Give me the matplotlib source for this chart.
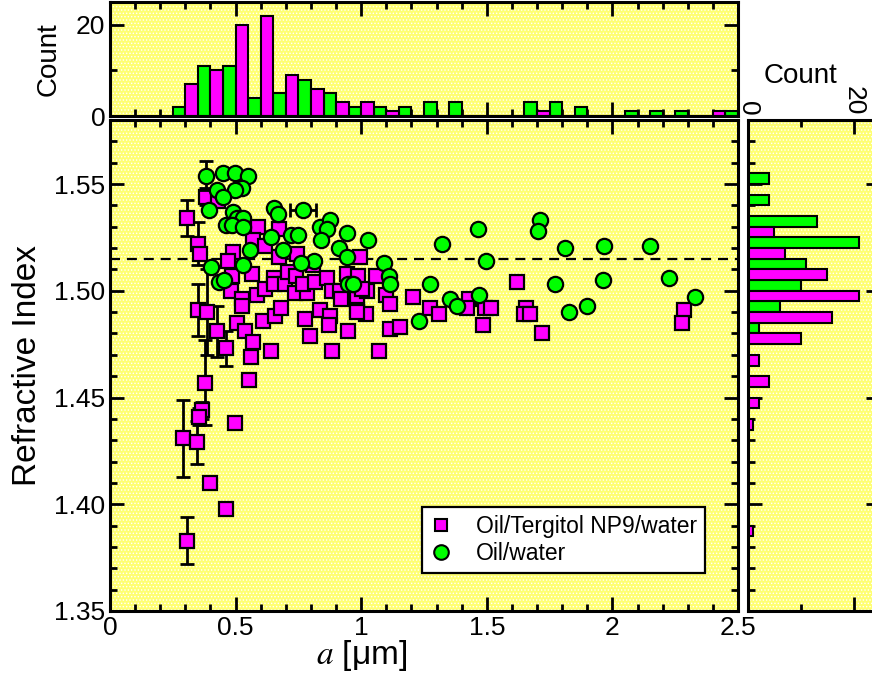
import matplotlib
matplotlib.use("Agg")
import matplotlib.pyplot as plt
from matplotlib.ticker import MultipleLocator, FormatStrFormatter, FuncFormatter, NullFormatter
from matplotlib.lines import Line2D
from matplotlib.patches import Rectangle
import numpy as np

plt.rcParams['font.family'] = ['Liberation Sans', 'DejaVu Sans']
plt.rcParams['mathtext.fontset'] = 'stix'
plt.rcParams['hatch.linewidth'] = 0.6

# ---- data ----
# Oil/Tergitol NP9/water (magenta squares)
m_x = [0.306, 0.382, 0.431, 0.352, 0.359, 0.591, 0.671, 0.571, 0.618, 0.489,
       0.471, 0.565, 0.485, 0.481, 0.525, 0.525, 0.584, 0.618, 0.651, 0.651,
       0.697, 0.710, 0.671, 0.744, 0.741, 0.737, 0.784, 0.770, 0.817, 0.810,
       0.863, 0.883, 0.916, 0.943, 0.989, 0.996, 0.983, 1.023, 1.060, 1.100,
       1.116, 1.206, 1.272, 0.352, 0.385, 0.425, 0.462, 0.505, 0.538, 0.571,
       0.561, 0.640, 0.611, 0.657, 0.681, 0.777, 0.797, 0.837, 0.876, 0.870,
       0.883, 0.949, 0.983, 1.019, 1.069, 1.113, 1.153, 0.378, 0.554, 0.365,
       0.356, 0.290, 0.345, 0.398, 0.498, 0.462, 0.308, 1.308, 1.431, 1.421,
       1.494, 1.518, 1.485, 1.620, 1.657, 1.647, 1.673, 1.720, 2.284, 2.278,
       0.919, 1.003, 0.985]
m_y = [1.534, 1.544, 1.542, 1.522, 1.517, 1.530, 1.529, 1.524, 1.521, 1.518,
       1.514, 1.508, 1.507, 1.500, 1.496, 1.493, 1.498, 1.501, 1.506, 1.503,
       1.503, 1.509, 1.516, 1.517, 1.507, 1.499, 1.499, 1.503, 1.504, 1.512,
       1.506, 1.500, 1.500, 1.508, 1.507, 1.516, 1.496, 1.500, 1.507, 1.498,
       1.494, 1.497, 1.492, 1.491, 1.490, 1.481, 1.473, 1.485, 1.481, 1.476,
       1.469, 1.472, 1.486, 1.488, 1.492, 1.487, 1.479, 1.491, 1.488, 1.484,
       1.472, 1.481, 1.491, 1.489, 1.472, 1.482, 1.483, 1.457, 1.458, 1.444,
       1.441, 1.431, 1.429, 1.410, 1.438, 1.398, 1.383, 1.489, 1.496, 1.492,
       1.492, 1.492, 1.484, 1.504, 1.492, 1.489, 1.489, 1.480, 1.491, 1.485,
       1.496, 1.501, 1.490]
m_err = [0.0085, 0.004, 0, 0.010, 0, 0, 0, 0, 0, 0,
         0, 0, 0, 0, 0, 0, 0, 0, 0, 0,
         0, 0, 0, 0, 0, 0, 0, 0, 0, 0,
         0, 0, 0, 0, 0, 0, 0, 0, 0, 0,
         0, 0, 0, 0.012, 0.020, 0.012, 0.008, 0, 0, 0,
         0, 0, 0, 0, 0, 0, 0, 0, 0, 0,
         0, 0, 0, 0, 0, 0, 0, 0.020, 0, 0.004,
         0.004, 0.018, 0.010, 0, 0, 0.002, 0.011, 0, 0, 0,
         0, 0, 0, 0, 0, 0, 0, 0, 0, 0,
         0, 0, 0]

# Oil/water (green circles)
g_x = [0.382, 0.451, 0.498, 0.549, 0.525, 0.425, 0.498, 0.449, 0.394, 0.491,
       0.505, 0.531, 0.462, 0.485, 0.529, 0.651, 0.668, 0.768, 0.640, 0.720,
       0.748, 0.837, 0.876, 0.863, 0.839, 0.943, 1.029, 0.558, 0.688, 0.910,
       0.943, 0.814, 0.761, 0.529, 0.402, 0.434, 0.454, 1.089, 1.112, 1.113,
       0.949, 0.969, 1.232, 1.275, 1.321, 1.465, 1.498, 1.713, 1.702, 1.810,
       1.965, 2.149, 2.227, 2.327, 1.352, 1.381, 1.470, 1.770, 1.829, 1.899,
       1.963]
g_y = [1.554, 1.555, 1.555, 1.554, 1.548, 1.547, 1.547, 1.544, 1.538, 1.537,
       1.534, 1.534, 1.531, 1.531, 1.530, 1.539, 1.536, 1.538, 1.525, 1.526,
       1.526, 1.530, 1.533, 1.529, 1.524, 1.527, 1.524, 1.519, 1.519, 1.520,
       1.516, 1.514, 1.513, 1.512, 1.511, 1.504, 1.505, 1.513, 1.507, 1.503,
       1.503, 1.503, 1.486, 1.503, 1.522, 1.529, 1.514, 1.533, 1.528, 1.520,
       1.521, 1.521, 1.506, 1.497, 1.496, 1.493, 1.498, 1.503, 1.490, 1.493,
       1.505]
g_yerr_idx, g_yerr = [0], [0.007]
g_xerr_idx, g_xerr = [17], [0.053]

REF_INDEX = 1.515

# size histogram (top): bins of 0.05, two series interleaved
g_size_edges = [0.25, 0.35, 0.45, 0.55, 0.65, 0.75, 0.85, 0.95, 1.05, 1.15, 1.25, 1.35,
                1.45, 1.55, 1.65, 1.75, 1.85, 1.95, 2.05, 2.15, 2.25, 2.35, 2.45]
g_size_counts = [2, 11, 11, 4, 5, 8, 5, 2, 2, 2, 3, 3, 0, 0, 3, 3, 2, 0, 1, 1, 1, 0, 1]
m_size_edges = [0.30, 0.40, 0.50, 0.60, 0.70, 0.80, 0.90, 1.00, 1.10, 1.20, 1.30, 1.40,
                1.50, 1.60, 1.70, 1.80, 1.90, 2.00, 2.10, 2.20, 2.30, 2.40]
m_size_counts = [7, 10, 20, 22, 9, 6, 3, 3, 1, 0, 0, 0, 0, 0, 1, 0, 0, 0, 0, 0, 0, 1]

# refractive index histogram (right)
g_ri_edges = [1.480, 1.490, 1.500, 1.510, 1.520, 1.530, 1.540, 1.550]
g_ri_counts = [2, 6, 10, 11, 21, 13, 4, 4]
m_ri_edges = [1.385, 1.435, 1.445, 1.455, 1.465, 1.475, 1.485, 1.495, 1.505, 1.515, 1.525]
m_ri_counts = [1, 1, 2, 4, 2, 10, 16, 21, 15, 7, 5]

MAGENTA = '#ff00ff'
GREEN = '#00ff00'
BG = '#ffff72'

fig = plt.figure(figsize=(8.72, 6.82), dpi=100)
W, H = 872, 682


def px_axes(l, t, r, b):
    return fig.add_axes([l / W, 1 - b / H, (r - l) / W, (b - t) / H])


def style(a):
    a.set_facecolor(BG)
    a.add_patch(Rectangle((0, 0), 1, 1, transform=a.transAxes, facecolor='none',
                          edgecolor='white', hatch='.....', lw=0, zorder=0.1))
    for s in a.spines.values():
        s.set_linewidth(2.2)
    a.tick_params(which='both', direction='in', width=2, top=True, right=True)
    a.tick_params(which='major', length=10, labelsize=19)
    a.tick_params(which='minor', length=5)


ax = px_axes(110, 120, 738, 611)
axt = px_axes(110, 2, 738, 116)
axr = px_axes(748, 120, 880, 611)
for a in (ax, axt, axr):
    style(a)

# ---- main scatter ----
m_x, m_y, m_err = np.array(m_x), np.array(m_y), np.array(m_err)
g_x, g_y = np.array(g_x), np.array(g_y)

ax.axhline(REF_INDEX, color='black', lw=1.6, ls=(0, (4.5, 3.1)), zorder=1)

sel = m_err > 0
ax.errorbar(m_x[sel], m_y[sel], yerr=m_err[sel], fmt='none', ecolor='black',
            elinewidth=2, capsize=5, capthick=2, zorder=2)
ax.plot(m_x, m_y, 's', ms=10, mfc=MAGENTA, mec='black', mew=1.6, zorder=3)

ax.errorbar(g_x[g_yerr_idx], g_y[g_yerr_idx], yerr=g_yerr, fmt='none', ecolor='black',
            elinewidth=2, capsize=5, capthick=2, zorder=3.5)
ax.errorbar(g_x[g_xerr_idx], g_y[g_xerr_idx], xerr=g_xerr, fmt='none', ecolor='black',
            elinewidth=2, capsize=5, capthick=2, zorder=3.5)
ax.plot(g_x, g_y, 'o', ms=11, mfc=GREEN, mec='black', mew=1.6, zorder=4)

ax.set_xlim(0, 2.5)
ax.set_ylim(1.35, 1.58)
ax.xaxis.set_major_locator(MultipleLocator(0.5))
ax.xaxis.set_minor_locator(MultipleLocator(0.1))
ax.yaxis.set_major_locator(MultipleLocator(0.05))
ax.yaxis.set_minor_locator(MultipleLocator(0.01))
ax.xaxis.set_major_formatter(FuncFormatter(lambda v, p: f'{v:g}'))
ax.yaxis.set_major_formatter(FormatStrFormatter('%.2f'))
ax.set_xlabel(r'$a$ [μm]', fontsize=24)
ax.xaxis.set_label_coords(0.401, -0.055)
ax.set_ylabel('Refractive Index', fontsize=24, labelpad=8)

handles = [Line2D([], [], ls='none', marker='s', ms=8, mfc=MAGENTA, mec='black', mew=1.5),
           Line2D([], [], ls='none', marker='o', ms=10.5, mfc=GREEN, mec='black', mew=1.5)]
leg = ax.legend(handles, ['Oil/Tergitol NP9/water', 'Oil/water'], loc='lower right',
                bbox_to_anchor=(0.947, 0.077), borderaxespad=0, fancybox=False,
                framealpha=1, edgecolor='black', fontsize=16.5, handlelength=1.0,
                handletextpad=1.0, borderpad=0.35, labelspacing=0.2)
leg.get_frame().set_linewidth(1.6)
leg.set_zorder(10)

# ---- top histogram ----
axt.bar(g_size_edges, g_size_counts, width=0.05, align='edge', color=GREEN,
        edgecolor='black', lw=1.5, zorder=2)
axt.bar(m_size_edges, m_size_counts, width=0.05, align='edge', color=MAGENTA,
        edgecolor='black', lw=1.5, zorder=2)
axt.set_xlim(0, 2.5)
axt.set_ylim(0, 25)
axt.xaxis.set_major_locator(MultipleLocator(0.5))
axt.xaxis.set_minor_locator(MultipleLocator(0.1))
axt.xaxis.set_major_formatter(NullFormatter())
axt.yaxis.set_major_locator(MultipleLocator(20))
axt.yaxis.set_minor_locator(MultipleLocator(10))
axt.set_ylabel('Count', fontsize=20, labelpad=10)

# ---- right histogram ----
axr.barh(g_ri_edges, g_ri_counts, height=0.005, align='edge', color=GREEN,
         edgecolor='black', lw=1.5, zorder=2)
axr.barh(m_ri_edges, m_ri_counts, height=0.005, align='edge', color=MAGENTA,
         edgecolor='black', lw=1.5, zorder=2)
axr.set_ylim(1.35, 1.58)
axr.set_xlim(0, 25)
axr.yaxis.set_major_locator(MultipleLocator(0.05))
axr.yaxis.set_minor_locator(MultipleLocator(0.01))
axr.yaxis.set_major_formatter(NullFormatter())
axr.xaxis.set_major_locator(MultipleLocator(20))
axr.xaxis.set_minor_locator(MultipleLocator(10))
axr.tick_params(axis='x', which='both', labeltop=True, labelbottom=False)
axr.tick_params(axis='x', labelrotation=-90, pad=3)
axr.xaxis.set_label_position('top')
axr.set_xlabel('Count', fontsize=20)
axr.xaxis.set_label_coords((800 - 748) / 132, 1.075)

fig.savefig('out.png', dpi=100)
